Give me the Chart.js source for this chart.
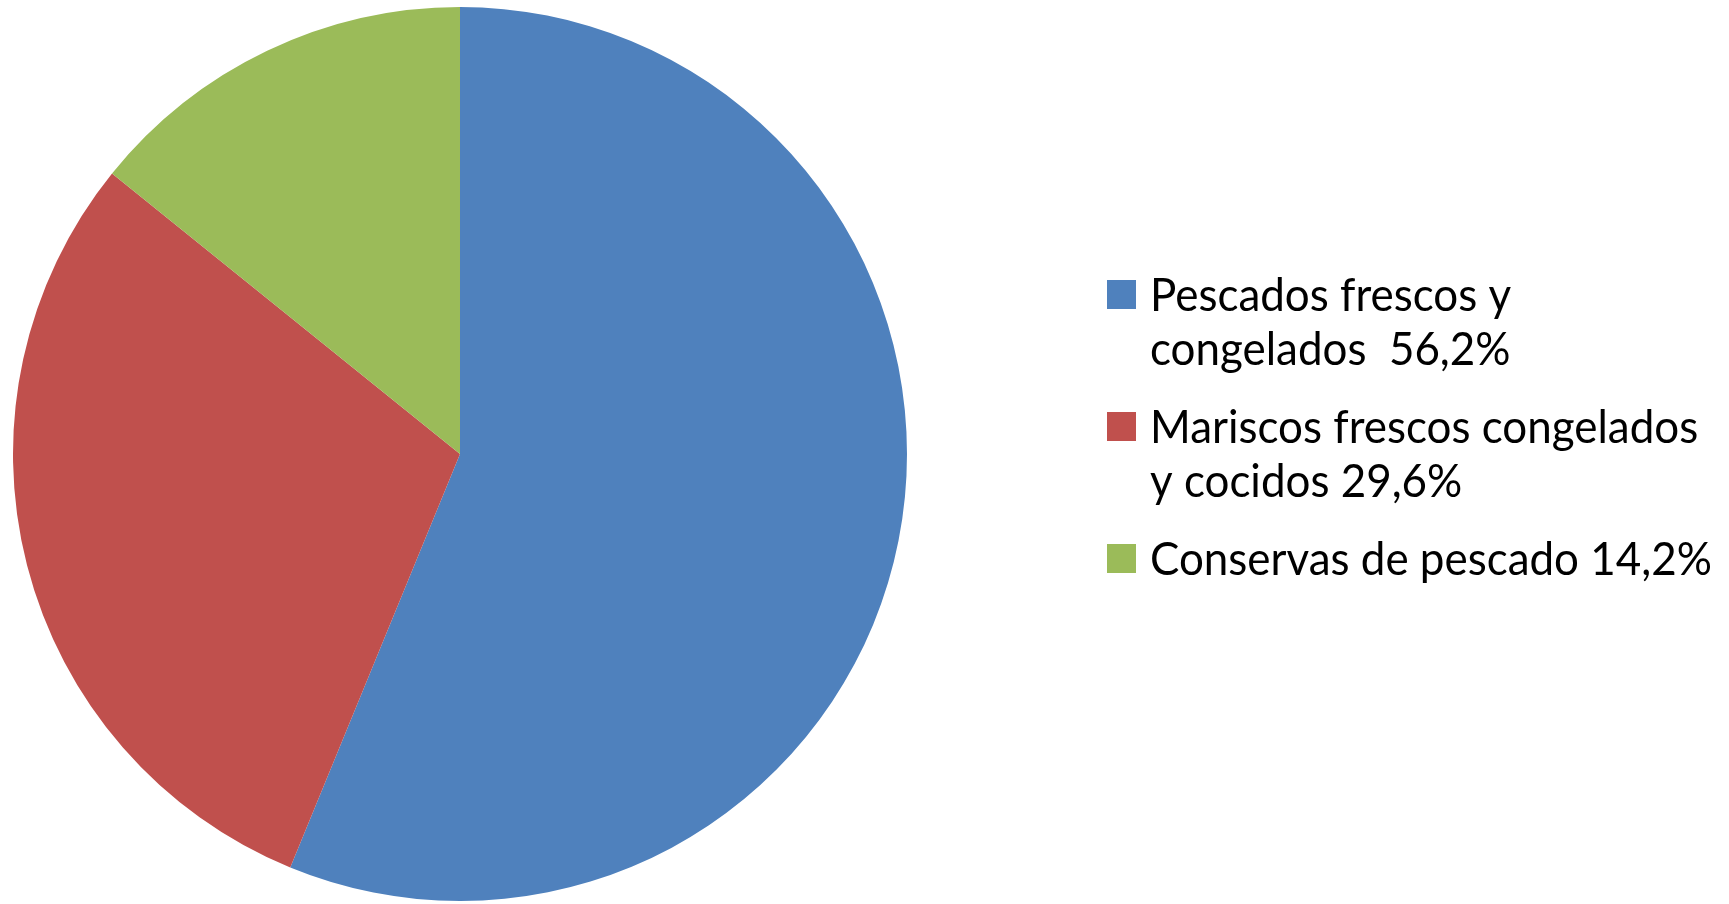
<!DOCTYPE html>
<html>
<head>
<meta charset="utf-8">
<script src="https://cdn.jsdelivr.net/npm/chart.js@4/dist/chart.umd.min.js"></script>
<style>
  html, body { margin: 0; padding: 0; background: #ffffff; }
  #wrap { width: 1729px; height: 904px; }
</style>
</head>
<body>
<div id="wrap"><canvas id="pesca"></canvas></div>
<script>
// data
const categorias = [
    ['Pescados frescos y', 'congelados  56,2%'],
    ['Mariscos frescos congelados', 'y cocidos 29,6%'],
    ['Conservas de pescado 14,2%']
];
const porcentajes = [56.2, 29.6, 14.2];
const colores = ['#4F81BD', '#C0504D', '#9BBB59'];

// legend drawn at the right, one box per slice, text in several lines
const leyendaDerecha = {
    id: 'leyendaDerecha',
    afterDraw(chart, args, opts) {
        const ctx = chart.ctx;
        const meta = chart.getDatasetMeta(0);
        let y = opts.firstBaseline;
        ctx.save();
        ctx.font = opts.fontSize + 'px ' + opts.fontFamily;
        ctx.textBaseline = 'alphabetic';
        ctx.textAlign = 'left';
        chart.data.labels.forEach((lineas, i) => {
            const arc = meta.data[i];
            ctx.fillStyle = arc.options.backgroundColor;
            ctx.fillRect(opts.boxX, y - opts.boxOffset, opts.boxSize, opts.boxSize);
            ctx.fillStyle = '#000000';
            lineas.forEach((t, j) => {
                ctx.save();
                ctx.translate(opts.textX, y + j * opts.lineHeight);
                ctx.scale(opts.scaleX, 1);
                ctx.fillText(t, 0, 0);
                ctx.restore();
            });
            y += lineas.length * opts.lineHeight + opts.gap;
        });
        ctx.restore();
    }
};

const datapesca = {
    labels: categorias,
    datasets: [{
        data: porcentajes,
        backgroundColor: colores,
        borderWidth: 0
    }]
};

const configpesca = {
    type: 'pie',
    data: datapesca,
    options: {
        responsive: true,
        maintainAspectRatio: false,
        animation: false,
        layout: {
            padding: { left: 13, right: 822, top: 7, bottom: 3 }
        },
        plugins: {
            legend: { display: false },
            tooltip: { enabled: false },
            leyendaDerecha: {
                boxX: 1107,
                boxSize: 29,
                boxOffset: 31,
                textX: 1150,
                firstBaseline: 311,
                lineHeight: 54,
                gap: 24,
                fontSize: 46,
                fontFamily: 'Lato, "Open Sans", sans-serif',
                scaleX: 0.955
            }
        }
    },
    plugins: [leyendaDerecha]
};

const pesca = new Chart(document.getElementById('pesca'), configpesca);
</script>
</body>
</html>
